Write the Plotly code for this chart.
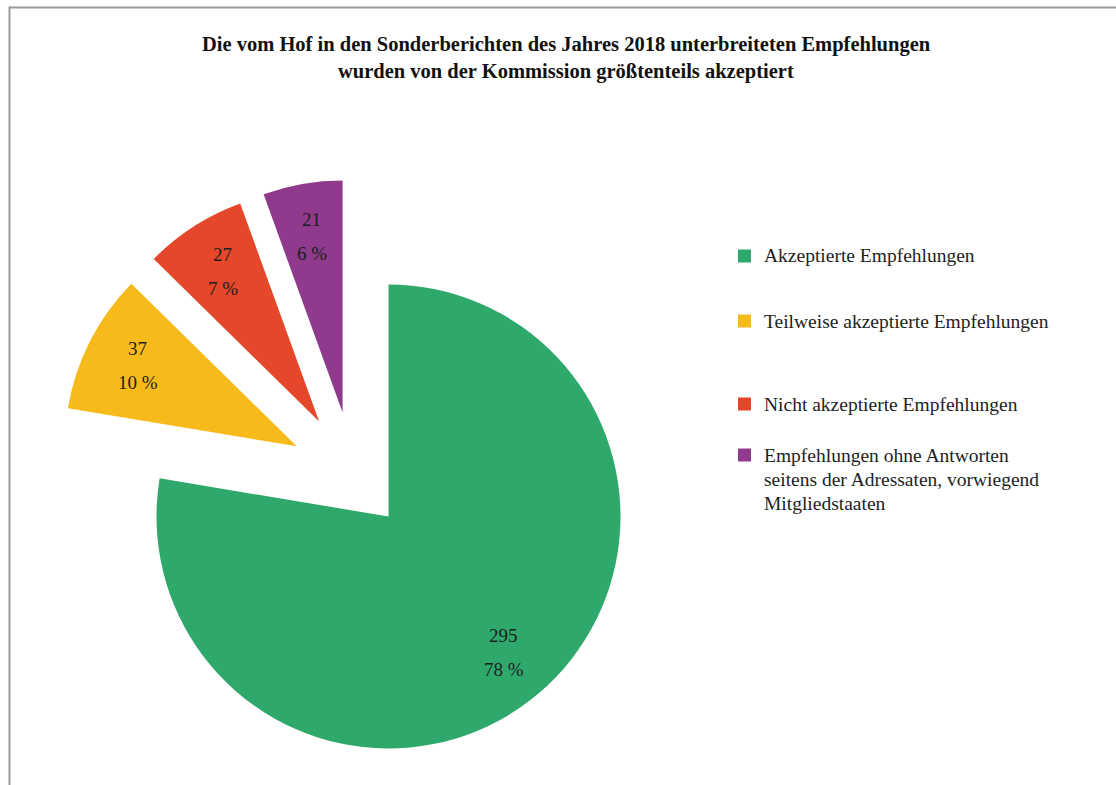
import math
import plotly.graph_objects as go

# Data
categories = [
    "Akzeptierte Empfehlungen",
    "Teilweise akzeptierte Empfehlungen",
    "Nicht akzeptierte Empfehlungen",
    "Empfehlungen ohne Antworten<br>seitens der Adressaten, vorwiegend<br>Mitgliedstaaten",
]
counts = [295, 37, 27, 21]
percent_labels = ["78 %", "10 %", "7 %", "6 %"]
colors = ["#2EA96B", "#F6BA1A", "#E44729", "#8F3A8C"]

title_lines = [
    "Die vom Hof in den Sonderberichten des Jahres 2018 unterbreiteten Empfehlungen",
    "wurden von der Kommission größtenteils akzeptiert",
]

# Page geometry (pixels)
W, H = 1116, 785
CX, CY = 388.5, 516.5      # centre of the main pie
R = 232.0                  # pie radius
GROUP_SHIFT = 54.0         # the three small slices are moved out together ...
PULL = 0.275               # ... and then each one is pulled from the others
LABEL_R = 0.77
SERIF = "Liberation Serif"
TEXT = "#1e1e1e"


def px(x):
    return x / W


def py(y):
    return 1 - y / H


def domain(cx, cy, half):
    return dict(x=[px(cx - half), px(cx + half)], y=[py(cy + half), py(cy - half)])


total = sum(counts)
# slice angles, clockwise from 12 o'clock
starts, ends = [], []
acc = 0.0
for v in counts:
    starts.append(acc / total * 360)
    acc += v
    ends.append(acc / total * 360)
mids = [(a + b) / 2 for a, b in zip(starts, ends)]


def unit(deg):
    t = math.radians(deg)
    return math.sin(t), -math.cos(t)


# offset of the group of smaller slices, along their common bisector
gmid = (starts[1] + ends[-1]) / 2
gux, guy = unit(gmid)
GX, GY = CX + GROUP_SHIFT * gux, CY + GROUP_SHIFT * guy

fig = go.Figure()

# main slice
fig.add_trace(go.Pie(
    values=counts,
    labels=[c.replace("<br>", " ") for c in categories],
    sort=False, direction="clockwise", rotation=0,
    marker=dict(colors=[colors[0]] + ["rgba(0,0,0,0)"] * 3, line=dict(width=0)),
    textinfo="none", hoverinfo="label+value+percent",
    showlegend=False,
    domain=domain(CX, CY, R),
))

# the three smaller slices, exploded
fig.add_trace(go.Pie(
    values=counts,
    labels=[c.replace("<br>", " ") for c in categories],
    sort=False, direction="clockwise", rotation=0,
    pull=[0] + [PULL] * 3,
    marker=dict(colors=["rgba(0,0,0,0)"] + colors[1:], line=dict(width=0)),
    textinfo="none", hoverinfo="label+value+percent",
    showlegend=False,
    domain=domain(GX, GY, R * (1 + PULL)),
))

annotations = []
shapes = []

# value labels inside slices
for i, (v, p) in enumerate(zip(counts, percent_labels)):
    ux, uy = unit(mids[i])
    if i == 0:
        vx, vy = CX, CY
    else:
        vx, vy = GX + PULL * R * ux, GY + PULL * R * uy
    lx, ly = vx + LABEL_R * R * ux, vy + LABEL_R * R * uy
    for text, dy in ((str(v), -17), (p, 17)):
        annotations.append(dict(
            x=px(lx), y=py(ly + dy), xref="paper", yref="paper",
            text=text, showarrow=False, xanchor="center", yanchor="middle",
            font=dict(family=SERIF, size=19, color=TEXT),
        ))

# title
for line, y in zip(title_lines, (45, 72)):
    annotations.append(dict(
        x=px(566), y=py(y), xref="paper", yref="paper",
        text=f"<b>{line}</b>", showarrow=False, xanchor="center", yanchor="middle",
        font=dict(family=SERIF, size=20.5, color="#111111"),
    ))

# legend
legend_rows = [256, 321, 404, 455]
LINE_H = 24
for cat, col, y in zip(categories, colors, legend_rows):
    shapes.append(dict(
        type="rect", xref="paper", yref="paper",
        x0=px(738), x1=px(751), y0=py(y + 6.5), y1=py(y - 6.5),
        fillcolor=col, line=dict(width=0),
    ))
    for k, part in enumerate(cat.split("<br>")):
        annotations.append(dict(
            x=px(762), y=py(y + k * LINE_H), xref="paper", yref="paper",
            text=part, showarrow=False, xanchor="left", yanchor="middle",
            font=dict(family=SERIF, size=19.5, color=TEXT),
        ))

# frame lines at top and left
shapes.append(dict(type="line", xref="paper", yref="paper",
                   x0=px(9.5), x1=1, y0=py(7.5), y1=py(7.5),
                   line=dict(color="#9a9a9a", width=2)))
shapes.append(dict(type="line", xref="paper", yref="paper",
                   x0=px(9.5), x1=px(9.5), y0=py(6.5), y1=0,
                   line=dict(color="#9a9a9a", width=2)))

fig.update_layout(
    width=W, height=H,
    margin=dict(l=0, r=0, t=0, b=0),
    paper_bgcolor="white", plot_bgcolor="white",
    annotations=annotations, shapes=shapes,
    showlegend=False,
)

fig.write_html("out.html")
